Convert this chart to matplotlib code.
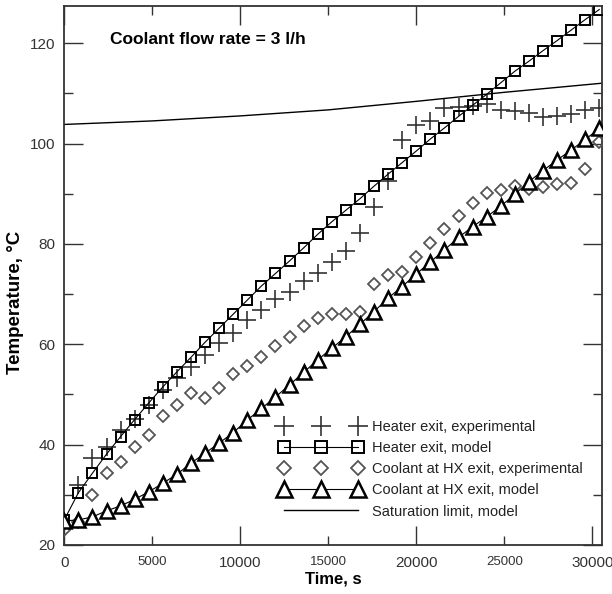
import matplotlib
matplotlib.use("Agg")
import matplotlib.pyplot as plt
from matplotlib.ticker import FixedLocator, FixedFormatter
import numpy as np

plt.rcParams['font.family'] = ['Liberation Sans', 'DejaVu Sans']

# ---- data ----
time_s = [0, 800, 1600, 2400, 3200, 4000, 4800, 5600, 6400, 7200, 8000, 8800,
          9600, 10400, 11200, 12000, 12800, 13600, 14400, 15200, 16000, 16800,
          17600, 18400, 19200, 20000, 20800, 21600, 22400, 23200, 24000, 24800,
          25600, 26400, 27200, 28000, 28800, 29600, 30400]

heater_exp = [23.5, 32.0, 37.3, 39.6, 42.9, 45.2, 47.9, 50.9, 53.2, 55.5, 57.8, 60.3,
              62.3, 64.8, 66.9, 69.1, 70.5, 72.6, 74.1, 76.4, 78.6, 82.1,
              87.4, 92.5, 100.7, 103.7, 104.4, 107.0, 107.2, 107.4, 107.8, 106.7,
              106.5, 106.0, 105.2, 105.5, 105.9, 106.6, 107.0]

heater_model = [25.0, 30.4, 34.3, 38.1, 41.6, 45.0, 48.3, 51.5, 54.5, 57.4, 60.4, 63.2,
                66.0, 68.8, 71.6, 74.1, 76.6, 79.2, 81.9, 84.4, 86.7, 89.0,
                91.5, 93.9, 96.2, 98.5, 100.9, 103.1, 105.4, 107.6, 109.8, 112.1,
                114.4, 116.4, 118.5, 120.5, 122.6, 124.7, 126.7]

coolant_exp = [23.0, 24.5, 30.0, 34.3, 36.6, 39.6, 41.9, 45.7, 47.9, 50.2, 49.3, 51.3,
               54.0, 55.7, 57.4, 59.7, 61.4, 63.6, 65.2, 66.0, 66.0, 66.5,
               72.1, 73.8, 74.4, 77.4, 80.1, 82.9, 85.5, 88.1, 90.1, 90.8,
               91.6, 91.0, 91.4, 92.0, 92.2, 94.9, 100.3]

coolant_model = [24.8, 25.0, 25.6, 26.8, 27.8, 29.1, 30.6, 32.3, 34.1, 36.3, 38.3, 40.3,
                 42.4, 44.9, 47.2, 49.5, 51.9, 54.4, 56.9, 59.2, 61.5, 64.0,
                 66.5, 69.2, 71.5, 74.0, 76.4, 78.8, 81.3, 83.4, 85.4, 87.5,
                 89.9, 92.4, 94.6, 96.7, 98.7, 100.8, 103.0]

sat_time = [0, 5000, 10000, 15000, 20000, 25000, 30500]
sat_temp = [103.8, 104.5, 105.5, 106.7, 108.4, 110.2, 112.0]

labels = ["Heater exit, experimental", "Heater exit, model",
          "Coolant at HX exit, experimental", "Coolant at HX exit, model",
          "Saturation limit, model"]

x_major = [0, 10000, 20000, 30000]
x_minor = [5000, 15000, 25000]
y_major = [20, 40, 60, 80, 100, 120]
y_minor = [30, 50, 70, 90, 110]

# ---- figure ----
fig = plt.figure(figsize=(6.12, 5.94), dpi=100)
ax = fig.add_axes([0.105, 0.0825, 0.878, 0.9074])

ax.plot(time_s, heater_exp, linestyle='none', marker='+', markersize=12.5,
        mew=1.2, color='#333333', label=labels[0], zorder=3)
ax.plot(time_s, heater_model, '-', color='black', lw=0.8, marker='s',
        markersize=7.2, mfc='none', mec='black', mew=1.4, label=labels[1], zorder=4)
ax.plot(time_s, coolant_exp, linestyle='none', marker='D', markersize=6.2,
        mfc='none', mec='#555555', mew=1.3, label=labels[2], zorder=3)
ax.plot(time_s, coolant_model, '-', color='black', lw=0.8, marker='^',
        markersize=10, mfc='white', mec='black', mew=1.8, label=labels[3], zorder=5)
ax.plot(sat_time, sat_temp, '-', color='black', lw=1.0, label=labels[4], zorder=2)

ax.set_xlim(0, 30530)
ax.set_ylim(20, 127.4)

ax.xaxis.set_major_locator(FixedLocator(x_major))
ax.xaxis.set_minor_locator(FixedLocator(x_minor))
ax.xaxis.set_major_formatter(FixedFormatter([str(v) for v in x_major]))
ax.xaxis.set_minor_formatter(FixedFormatter([str(v) for v in x_minor]))
ax.yaxis.set_major_locator(FixedLocator(y_major))
ax.yaxis.set_minor_locator(FixedLocator(y_minor))

tick_color = '#333333'
ax.tick_params(which='major', direction='in', length=13.5, width=1.0,
               top=True, right=True, color=tick_color, labelcolor='#333333')
ax.tick_params(which='minor', direction='in', length=6.5, width=1.0,
               top=True, right=True, color=tick_color, labelcolor='#333333')
ax.tick_params(axis='x', which='major', labelsize=11, pad=8)
ax.tick_params(axis='x', which='minor', labelsize=9.5, pad=8)
ax.tick_params(axis='y', which='major', labelsize=11, pad=6.5)

for sp in ax.spines.values():
    sp.set_color('#333333')
    sp.set_linewidth(1.3)

ax.set_xlabel("Time, s", fontsize=12, fontweight='bold', labelpad=1)
ax.set_ylabel("Temperature, °C", fontsize=13.5, fontweight='bold')
ax.yaxis.set_label_coords(-0.074, 0.451)

ax.text(2600, 120.8, "Coolant flow rate = 3 l/h", fontsize=12.5,
        fontweight='bold', ha='left', va='center')

leg = ax.legend(loc='upper left', bbox_to_anchor=(0.401, 0.232),
                frameon=False, numpoints=3, handlelength=5.7,
                handletextpad=0.65, labelspacing=0.49, fontsize=10.5,
                borderpad=0, borderaxespad=0, markerscale=1.1)
for t in leg.get_texts():
    t.set_color('#222222')

fig.savefig("out.png", dpi=100)
